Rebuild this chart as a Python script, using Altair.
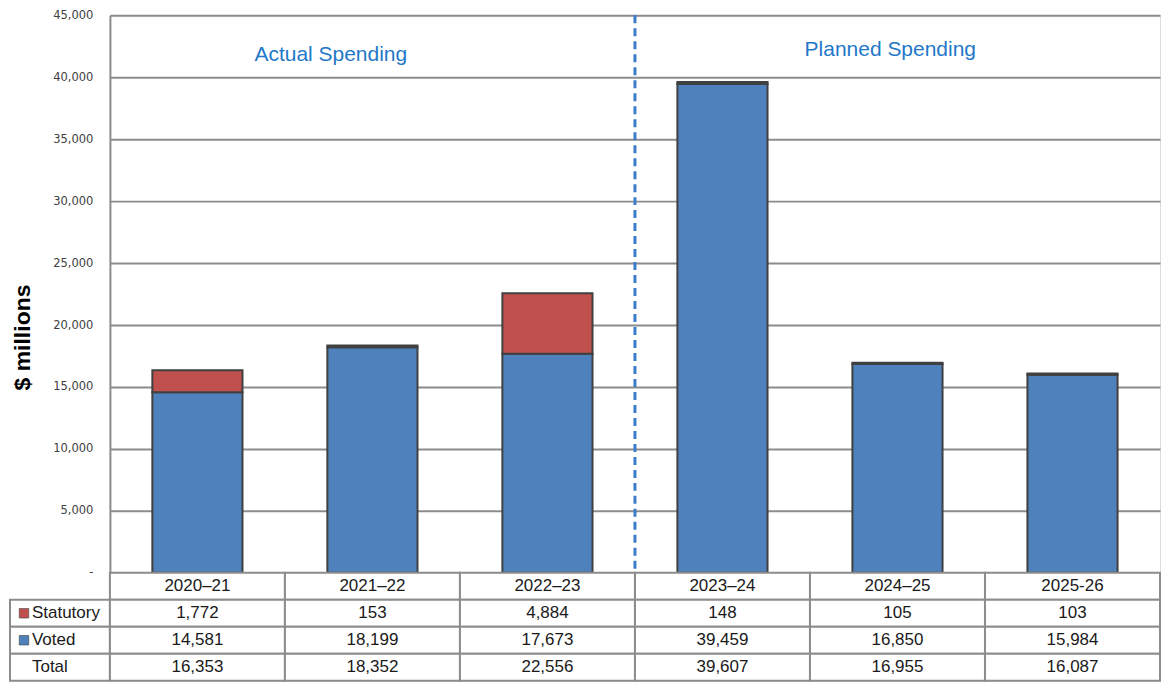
import altair as alt
import pandas as pd

categories = ["2020–21", "2021–22", "2022–23", "2023–24", "2024–25", "2025-26"]
statutory = [1772, 153, 4884, 148, 105, 103]
voted = [14581, 18199, 17673, 39459, 16850, 15984]
totals = [16353, 18352, 22556, 39607, 16955, 16087]
series_names = ["Statutory", "Voted"]
row_names = ["Statutory", "Voted", "Total"]
y_ticks = [0, 5000, 10000, 15000, 20000, 25000, 30000, 35000, 40000, 45000]
annotations = ["Actual Spending", "Planned Spending"]

BLUE = "#4f81bd"
RED = "#c0504d"
GRID = "#8c8c8c"
ANN = "#1f78c8"

bars_df = pd.DataFrame({
    "cat": categories * 2,
    "series": ["Voted"] * len(categories) + ["Statutory"] * len(categories),
    "value": voted + statutory,
    "ord": [0] * len(categories) + [1] * len(categories),
})

x_scale = alt.Scale(domain=categories, paddingInner=0, paddingOuter=0)
color_scale = alt.Scale(domain=series_names, range=[RED, BLUE])
y_scale = alt.Scale(domain=[0, 45000], nice=False)

y_axis = alt.Axis(
    values=y_ticks,
    grid=True, gridColor=GRID, gridWidth=2,
    domain=True, domainColor=GRID, domainWidth=2,
    ticks=False,
    labelFont="DejaVu Sans", labelFontSize=11.5, labelColor="#404040", labelPadding=17,
    labelExpr="datum.value == 0 ? '-\u00a0\u00a0\u00a0\u00a0' : format(datum.value, ',')",
    title="$ millions",
    titleFont="Liberation Sans", titleFontSize=23, titleFontWeight="bold", titleColor="#000000",
    titleX=-87, titleY=322, titleAlign="center", titleBaseline="middle", titleAngle=270,
)

bars = alt.Chart(bars_df).mark_bar(
    width=alt.RelativeBandSize(0.515), stroke="#404040", strokeWidth=2
).encode(
    x=alt.X("cat:N", scale=x_scale, axis=None, sort=categories),
    y=alt.Y("value:Q", stack="zero", scale=y_scale, axis=y_axis),
    color=alt.Color("series:N", scale=color_scale, legend=None),
    order=alt.Order("ord:Q"),
)

rule_df = pd.DataFrame({"cat": [categories[3]]})
divider = alt.Chart(rule_df).mark_rule(
    color="#3b7dc8", strokeWidth=3, strokeDash=[8, 5]
).encode(
    x=alt.X("cat:N", scale=x_scale, axis=None, bandPosition=0, sort=categories),
)

ann1 = alt.Chart(pd.DataFrame({"cat": [categories[1]], "t": [annotations[0]]})).mark_text(
    font="Liberation Sans", fontSize=21, color=ANN, baseline="middle", align="center"
).encode(
    x=alt.X("cat:N", scale=x_scale, axis=None, bandPosition=0.262, sort=categories),
    y=alt.Y(datum=41790, scale=y_scale),
    text="t:N",
)
ann2 = alt.Chart(pd.DataFrame({"cat": [categories[4]], "t": [annotations[1]]})).mark_text(
    font="Liberation Sans", fontSize=21, color=ANN, baseline="middle", align="center"
).encode(
    x=alt.X("cat:N", scale=x_scale, axis=None, bandPosition=0.459, sort=categories),
    y=alt.Y(datum=42190, scale=y_scale),
    text="t:N",
)

top = alt.layer(bars, divider, ann1, ann2).properties(width=1051, height=558)

# ---- data table below ----
recs = []
for i, c in enumerate(categories):
    recs.append({"cat": c, "row": "hdr", "label": c})
    recs.append({"cat": c, "row": "Statutory", "label": f"{statutory[i]:,}"})
    recs.append({"cat": c, "row": "Voted", "label": f"{voted[i]:,}"})
    recs.append({"cat": c, "row": "Total", "label": f"{totals[i]:,}"})
table_df = pd.DataFrame(recs)

row_scale = alt.Scale(domain=["hdr"] + row_names, paddingInner=0, paddingOuter=0)

cells = alt.Chart(table_df).mark_rect(fill="white", stroke=GRID, strokeWidth=2).encode(
    x=alt.X("cat:N", scale=x_scale, axis=None, sort=categories),
    y=alt.Y("row:N", scale=row_scale, axis=None),
)
cell_text = alt.Chart(table_df).mark_text(
    font="Liberation Sans", fontSize=17, color="#1a1a1a", baseline="middle", align="center"
).encode(
    x=alt.X("cat:N", scale=x_scale, axis=None, sort=categories),
    y=alt.Y("row:N", scale=row_scale, axis=None),
    text="label:N",
)

label_df = pd.DataFrame({"row": row_names})
left_boxes = alt.Chart(label_df).mark_rect(fill="white", stroke=GRID, strokeWidth=2).encode(
    x=alt.value(-100), x2=alt.value(0),
    y=alt.Y("row:N", scale=row_scale, axis=None),
)
left_text = alt.Chart(label_df).mark_text(
    font="Liberation Sans", fontSize=17, color="#1a1a1a", baseline="middle", align="left"
).encode(
    x=alt.value(-78),
    y=alt.Y("row:N", scale=row_scale, axis=None),
    text="row:N",
)
sq_df = pd.DataFrame({"row": series_names})
squares = alt.Chart(sq_df).mark_square(size=90, opacity=1, stroke="#404040", strokeWidth=0.6).encode(
    x=alt.value(-86),
    y=alt.Y("row:N", scale=row_scale, axis=None),
    color=alt.Color("row:N", scale=color_scale, legend=None),
)

bottom = alt.layer(left_boxes, cells, cell_text, left_text, squares).properties(width=1051, height=108)

chart = alt.vconcat(top, bottom, spacing=0, bounds="flush").properties(
    padding={"left": 0, "top": 0, "right": 0, "bottom": 0}
).configure_view(stroke=None).configure(background="white")

chart.save("out.html", embed_options={"renderer": "svg", "actions": False})
